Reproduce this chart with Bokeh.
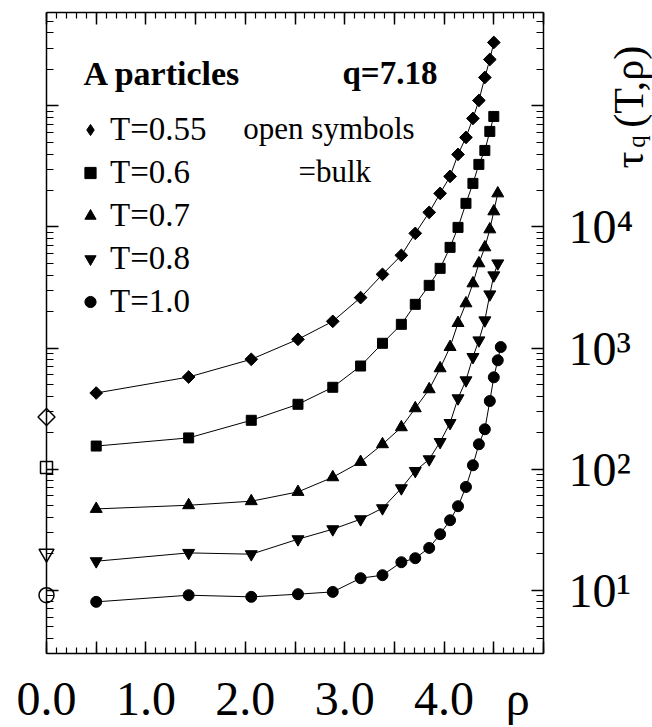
import numpy as np
from bokeh.plotting import figure
from bokeh.models import (LinearAxis, LogAxis, FixedTicker, Range1d, Label,
                          Legend, LegendItem)
from bokeh.embed import file_html
from bokeh.resources import INLINE

# ---- data ----
rho = [0.50, 1.43, 2.06, 2.53, 2.88, 3.16, 3.38, 3.57, 3.71, 3.85, 3.96,
       4.06, 4.14, 4.22, 4.29, 4.35, 4.41, 4.46, 4.50, 4.54, 4.57]

tau_055 = [425, 576, 807, 1180, 1661, 2607, 4058, 5826, 8847, 13190, 18920,
           26150, 39700, 54850, 78700, 110800, 171600, 241500, 333700]
tau_060 = [155, 181, 253, 343, 474, 710, 1094, 1569, 2295, 3292, 4549,
           6780, 9915, 15650, 22880, 32840, 42830, 61480, 81740]
tau_070 = [46.9, 50.3, 54.3, 64.8, 85.6, 114.6, 160.4, 221.5, 317.9, 456.1,
           680.0, 1019, 1608, 2339, 3420, 5003, 6780, 9545, 13440, 18920]
tau_080 = [17.35, 20.32, 19.83, 26.36, 31.88, 38.56, 47.52, 69.49, 96.5,
           120.6, 167.5, 240.4, 384.4, 541.3, 842.8, 1157, 1693, 2775, 3983, 5003]
tau_100 = [8.01, 9.09, 8.81, 9.27, 9.68, 12.56, 13.30, 17.02, 18.37, 22.35,
           28.99, 37.83, 49.37, 71.23, 107.6, 160.4, 213.3, 365.1, 573.1, 791.7, 1019]

bulk_rho = [0.0, 0.0, 0.0, 0.0]
bulk_tau = [269.5, 103.0, 20.1, 9.09]

series_labels = ["T=0.55", "T=0.6", "T=0.7", "T=0.8", "T=1.0"]

x_major = [0.0, 0.5, 1.0, 1.5, 2.0, 2.5, 3.0, 3.5, 4.0, 4.5, 5.0]
x_minor = [round(0.1 * i, 1) for i in range(0, 51)]
x_label_ticks = [0, 1, 2, 3, 4, 4.74]
x_labels = {0: "0.0", 1: "1.0", 2: "2.0", 3: "3.0", 4: "4.0", 4.74: "\u03c1"}
y_major = [10, 100, 1000, 10000, 100000]
y_minor = [k * 10.0 ** d for d in range(0, 6) for k in range(1, 10)]
y_labels = {10: "10\u00b9", 100: "10\u00b2", 1000: "10\u00b3",
            10000: "10\u2074", 100000: " "}

SERIF = "Liberation Serif"
X0, X1 = 0.0, 5.0          # visible data box in rho

p = figure(frame_width=650, frame_height=641,
           x_range=Range1d(-0.4427, 6.0966), y_range=Range1d(3, 5.9e5),
           y_axis_type="log", output_backend="svg", toolbar_location=None,
           x_axis_location=None, y_axis_location=None,
           min_border_left=2, min_border_top=12, min_border_right=0,
           min_border_bottom=60, background_fill_color="white",
           border_fill_color="white")
p.outline_line_color = None
p.grid.visible = False

xt = FixedTicker(ticks=x_major, minor_ticks=x_minor)
yt = FixedTicker(ticks=y_major, minor_ticks=y_minor)

common = dict(axis_line_width=1.5, axis_line_color="black",
              major_tick_line_width=1.5, minor_tick_line_width=1.2,
              major_tick_line_color="black", minor_tick_line_color="black",
              major_tick_in=12, major_tick_out=0, minor_tick_out=0)
hidden = dict(major_label_text_font_size="2px", major_label_text_color=None,
              major_label_standoff=0)

bottom = LinearAxis(ticker=xt, bounds=(X0, X1), minor_tick_in=6, **hidden, **common)
bottom_lab = LinearAxis(ticker=FixedTicker(ticks=x_label_ticks),
                        major_label_overrides=x_labels,
                        axis_line_color=None, major_tick_line_color=None,
                        minor_tick_line_color=None,
                        major_label_text_font=SERIF, major_label_text_font_size="48px",
                        major_label_text_color="black", major_label_standoff=12)
top = LinearAxis(ticker=xt, bounds=(X0, X1), minor_tick_in=6, **hidden, **common)
left = LogAxis(ticker=yt, fixed_location=X0, minor_tick_in=7, **hidden, **common)
right = LogAxis(ticker=yt, fixed_location=X1, major_label_overrides=y_labels,
                minor_tick_in=7, major_label_text_font=SERIF,
                major_label_text_font_size="48px", major_label_text_color="black",
                major_label_standoff=25, **common)
p.add_layout(bottom, "below")
p.add_layout(bottom_lab, "below")
p.add_layout(top, "above")
p.add_layout(left, "left")
p.add_layout(right, "right")

series = [
    (tau_055, dict(marker="square", angle=np.pi / 4, size=9)),
    (tau_060, dict(marker="square", size=10)),
    (tau_070, dict(marker="triangle", size=12)),
    (tau_080, dict(marker="inverted_triangle", size=12)),
    (tau_100, dict(marker="circle", size=11)),
]
legend_markers = ["diamond", None, None, None, None]
items = []
for (vals, mk), lab, lm in zip(series, series_labels, legend_markers):
    xs = rho[:len(vals)]
    p.line(xs, vals, line_color="black", line_width=1)
    r = p.scatter(xs, vals, fill_color="black", line_color="black", **mk)
    if lm is not None:
        # legend swatch only (legend markers cannot be rotated)
        r = p.scatter(x=xs[:1], y=vals[:1], marker=lm, fill_color="black",
                      line_color="black", visible=False)
    items.append(LegendItem(label=lab, renderers=[r]))

bulk_markers = ["square", "square", "inverted_triangle", "circle"]
bulk_sizes = [12, 12, 15, 15]
bulk_angles = [np.pi / 4, 0, 0, 0]
for bx, by, m, s, a in zip(bulk_rho, bulk_tau, bulk_markers, bulk_sizes, bulk_angles):
    p.scatter([bx], [by], marker=m, size=s, angle=a, fill_color="white",
              line_color="black", line_width=1.5)

legend = Legend(items=items, location=(74, 330), border_line_color=None,
                background_fill_alpha=0, label_text_font=SERIF,
                label_text_font_size="33px", label_text_color="black",
                glyph_width=28, glyph_height=43, label_height=43, spacing=0,
                padding=0, margin=0, label_standoff=6)
p.add_layout(legend)

def lab(text, x, y, size, bold=False, **kw):
    p.add_layout(Label(x=x, y=y, text=text, text_font=SERIF,
                       text_font_size=size, text_color="black",
                       text_font_style="bold" if bold else "normal", **kw))

lab("A particles", 0.372, 1.85e5, "34px", bold=True, text_baseline="middle")
lab("q=7.18", 2.978, 1.85e5, "33px", bold=True, text_baseline="middle")
lab("open symbols", 1.98, 6.51e4, "31px", text_baseline="middle")
lab("=bulk", 2.535, 2.874e4, "31px", text_baseline="middle")
lab("\u03c4", 5.865, 3.043e4, "42px", angle=np.pi / 2, text_align="left",
    text_baseline="alphabetic")
lab("q", 5.94, 4.50e4, "25px", angle=np.pi / 2, text_align="left",
    text_baseline="alphabetic")
lab("(T,\u03c1)", 5.865, 6.6e4, "42px", angle=np.pi / 2, text_align="left",
    text_baseline="alphabetic")

open("out.html", "w").write(file_html(p, INLINE))
